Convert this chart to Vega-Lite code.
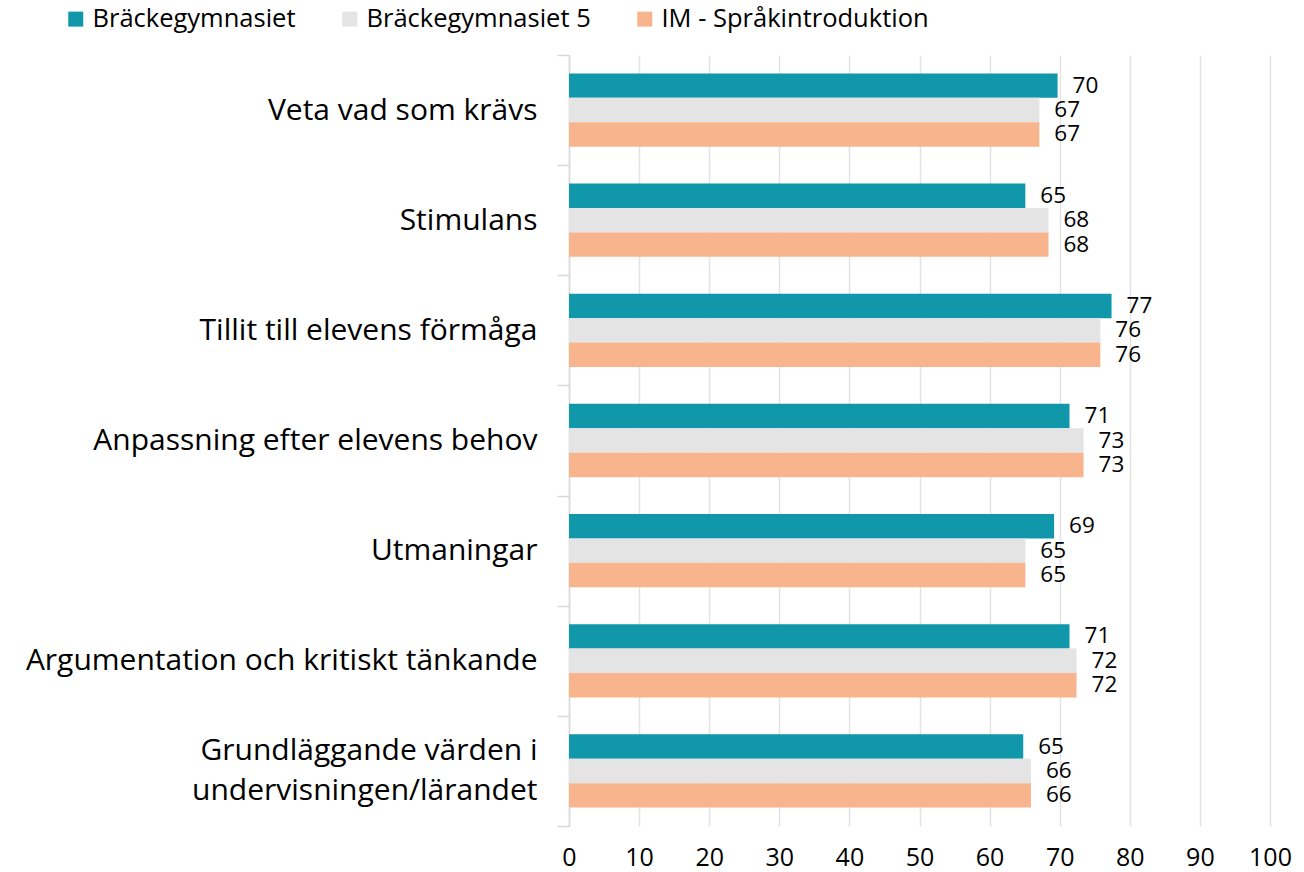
{
  "$schema": "https://vega.github.io/schema/vega-lite/v6.json",
  "autosize": {"type": "none"},
  "width": 701,
  "height": 771,
  "padding": {"left": 569, "top": 55, "right": 34, "bottom": 46},
  "background": "white",
  "config": {
    "font": "Open Sans",
    "view": {"stroke": null}
  },
  "data": {
    "values": [
      {"kategori": "Veta vad som krävs", "grupp": "Bräckegymnasiet", "varde": 69.7},
      {"kategori": "Veta vad som krävs", "grupp": "Bräckegymnasiet 5", "varde": 67.1},
      {"kategori": "Veta vad som krävs", "grupp": "IM - Språkintroduktion", "varde": 67.1},
      {"kategori": "Stimulans", "grupp": "Bräckegymnasiet", "varde": 65.1},
      {"kategori": "Stimulans", "grupp": "Bräckegymnasiet 5", "varde": 68.4},
      {"kategori": "Stimulans", "grupp": "IM - Språkintroduktion", "varde": 68.4},
      {"kategori": "Tillit till elevens förmåga", "grupp": "Bräckegymnasiet", "varde": 77.4},
      {"kategori": "Tillit till elevens förmåga", "grupp": "Bräckegymnasiet 5", "varde": 75.8},
      {"kategori": "Tillit till elevens förmåga", "grupp": "IM - Språkintroduktion", "varde": 75.8},
      {"kategori": "Anpassning efter elevens behov", "grupp": "Bräckegymnasiet", "varde": 71.4},
      {"kategori": "Anpassning efter elevens behov", "grupp": "Bräckegymnasiet 5", "varde": 73.4},
      {"kategori": "Anpassning efter elevens behov", "grupp": "IM - Språkintroduktion", "varde": 73.4},
      {"kategori": "Utmaningar", "grupp": "Bräckegymnasiet", "varde": 69.2},
      {"kategori": "Utmaningar", "grupp": "Bräckegymnasiet 5", "varde": 65.1},
      {"kategori": "Utmaningar", "grupp": "IM - Språkintroduktion", "varde": 65.1},
      {"kategori": "Argumentation och kritiskt tänkande", "grupp": "Bräckegymnasiet", "varde": 71.4},
      {"kategori": "Argumentation och kritiskt tänkande", "grupp": "Bräckegymnasiet 5", "varde": 72.4},
      {"kategori": "Argumentation och kritiskt tänkande", "grupp": "IM - Språkintroduktion", "varde": 72.4},
      {"kategori": "Grundläggande värden i undervisningen/lärandet", "grupp": "Bräckegymnasiet", "varde": 64.8},
      {"kategori": "Grundläggande värden i undervisningen/lärandet", "grupp": "Bräckegymnasiet 5", "varde": 65.9},
      {"kategori": "Grundläggande värden i undervisningen/lärandet", "grupp": "IM - Språkintroduktion", "varde": 65.9}
    ]
  },
  "encoding": {
    "y": {
      "field": "kategori",
      "type": "nominal",
      "sort": null,
      "scale": {"paddingInner": 0, "paddingOuter": 0},
      "axis": {
        "title": null,
        "domainColor": "#D9D9D9",
        "domainWidth": 1.5,
        "tickColor": "#D9D9D9",
        "tickWidth": 1.5,
        "tickSize": 12,
        "tickBand": "extent",
        "labelPadding": 20,
        "labelFont": "Open Sans",
        "labelFontSize": 30,
        "labelColor": "#000000",
        "labelLimit": 0,
        "labelExpr": "datum.label == 'Grundläggande värden i undervisningen/lärandet' ? ['Grundläggande värden i ', 'undervisningen/lärandet'] : datum.label",
        "labelLineHeight": 40,
        "labelOffset": {"condition": {"test": "datum.value == 'Grundläggande värden i undervisningen/lärandet'", "value": -20}, "value": 0},
        "grid": false
      }
    },
    "x": {
      "field": "varde",
      "type": "quantitative",
      "scale": {"domain": [0, 100], "nice": false},
      "axis": {
        "title": null,
        "values": [0, 10, 20, 30, 40, 50, 60, 70, 80, 90, 100],
        "domain": false,
        "ticks": false,
        "grid": true,
        "gridColor": "#E3E3E3",
        "gridWidth": 1.5,
        "labelFlush": false,
        "labelOverlap": false,
        "labelPadding": 19,
        "labelFont": "Open Sans",
        "labelFontSize": 25,
        "labelColor": "#000000"
      }
    },
    "yOffset": {
      "field": "grupp",
      "type": "nominal",
      "sort": ["Bräckegymnasiet", "Bräckegymnasiet 5", "IM - Språkintroduktion"],
      "scale": {"paddingInner": 0, "paddingOuter": 0.755}
    }
  },
  "layer": [
    {
      "mark": {"type": "bar"},
      "encoding": {
        "color": {
          "field": "grupp",
          "type": "nominal",
          "sort": ["Bräckegymnasiet", "Bräckegymnasiet 5", "IM - Språkintroduktion"],
          "scale": {
            "domain": ["Bräckegymnasiet", "Bräckegymnasiet 5", "IM - Språkintroduktion"],
            "range": ["#1197AA", "#E4E4E4", "#F7B48D"]
          },
          "legend": {
            "title": null,
            "orient": "none",
            "direction": "horizontal",
            "legendX": -506,
            "legendY": -49,
            "symbolType": "square",
            "symbolSize": 225,
            "symbolStrokeWidth": 0,
            "labelFont": "Open Sans",
            "labelFontSize": 25.5,
            "labelColor": "#000000",
            "labelOffset": 4,
            "columnPadding": 41,
            "labelLimit": 0
          }
        }
      }
    },
    {
      "mark": {"type": "text", "align": "left", "baseline": "middle", "dx": 15, "fontSize": 22.5, "font": "Open Sans", "color": "#000000"},
      "encoding": {
        "text": {"field": "varde", "type": "quantitative", "format": ".0f"}
      }
    }
  ]
}
